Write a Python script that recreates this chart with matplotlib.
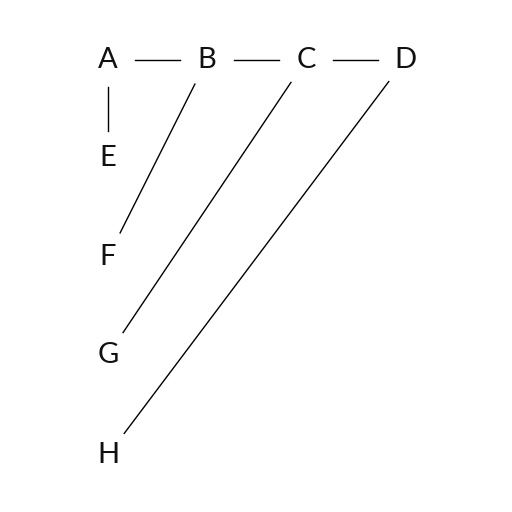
import matplotlib
matplotlib.use("Agg")
import matplotlib.pyplot as plt
import numpy as np

labels = ["A", "B", "C", "D", "E", "F", "G", "H"]
xs = [108, 207, 306, 405, 108, 108, 108, 108]
ys = [60, 60, 60, 60, 158, 257, 355, 455]
edges = [("A", "B"), ("B", "C"), ("C", "D"), ("A", "E"), ("B", "F"), ("C", "G"), ("D", "H")]

fig = plt.figure(figsize=(5.12, 5.12), dpi=100)
ax = fig.add_axes([0, 0, 1, 1])
ax.set_xlim(0, 512)
ax.set_ylim(512, 0)
ax.axis("off")

pos = {l: (x, y) for l, x, y in zip(labels, xs, ys)}
gap = 27
for a, b in edges:
    p = np.array(pos[a], float); q = np.array(pos[b], float)
    d = (q - p) / np.linalg.norm(q - p)
    s = p + d * gap; e = q - d * gap
    ax.plot([s[0], e[0]], [s[1], e[1]], color="black", lw=1)

for l, x, y in zip(labels, xs, ys):
    ax.text(x, y, l, ha="center", va="center", fontsize=21, family=["Lato", "DejaVu Sans"], color="#111111")

fig.savefig("out.png", dpi=100, facecolor="white")
